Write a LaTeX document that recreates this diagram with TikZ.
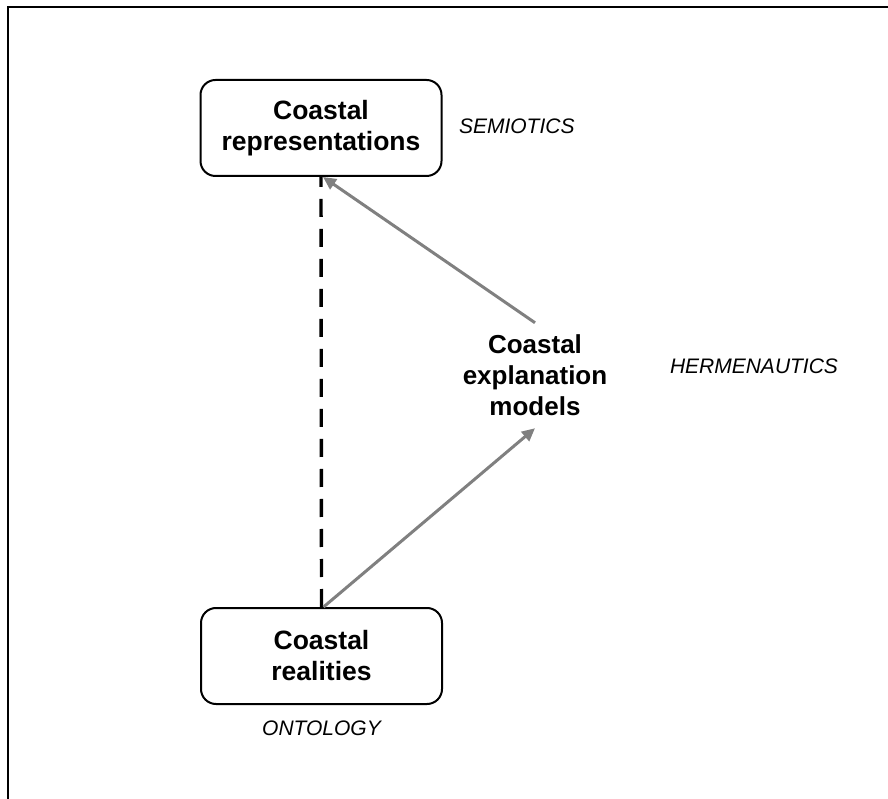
\documentclass[tikz,border=0pt]{standalone}
\usepackage{fontspec}
\setmainfont{Liberation Sans}
\usepackage{tikz}
\usetikzlibrary{arrows.meta}
\usetikzlibrary{positioning}

\tikzset{
  conceptbox/.style={draw, line width=2pt, rounded corners=15pt,
        minimum width=241pt, minimum height=96pt, align=center,
        font=\fontsize{26.5}{31}\selectfont\bfseries},
  modeltext/.style={align=center, inner sep=12pt,
        font=\fontsize{26}{31}\selectfont\bfseries},
  fieldlabel/.style={font=\fontsize{21}{25}\selectfont\itshape},
  greyarrow/.style={draw=gray, line width=3pt,
        -{Triangle[length=13pt,width=12pt]}}
}

\begin{document}
\begin{tikzpicture}[x=1pt,y=1pt]

\clip (0,0) rectangle (888,798);
\useasboundingbox (0,0) rectangle (888,798);

\draw [line width=2pt] (8,791) rectangle (910,-20);

\node [conceptbox] (rep) at (321,670) {Coastal\\representations};
\node [conceptbox] (real) at (321.5,142) {Coastal\\realities};
\node [modeltext] (expl) at (535,422.5) {Coastal\\explanation\\models};

\node [fieldlabel, right=13pt of rep, yshift=2pt] (semio) {SEMIOTICS};
\node [fieldlabel] (herm) at (754,432) {HERMENAUTICS};
\node [fieldlabel, below=12pt of real] (onto) {ONTOLOGY};

\draw [line width=3.4pt, dash pattern=on 18pt off 12pt] (real.north) -- (rep.south);

\draw [greyarrow] (expl.north) -- ([xshift=2pt]rep.south);
\draw [greyarrow] ([xshift=2pt]real.north) -- (expl.south);
\end{tikzpicture}
\end{document}
